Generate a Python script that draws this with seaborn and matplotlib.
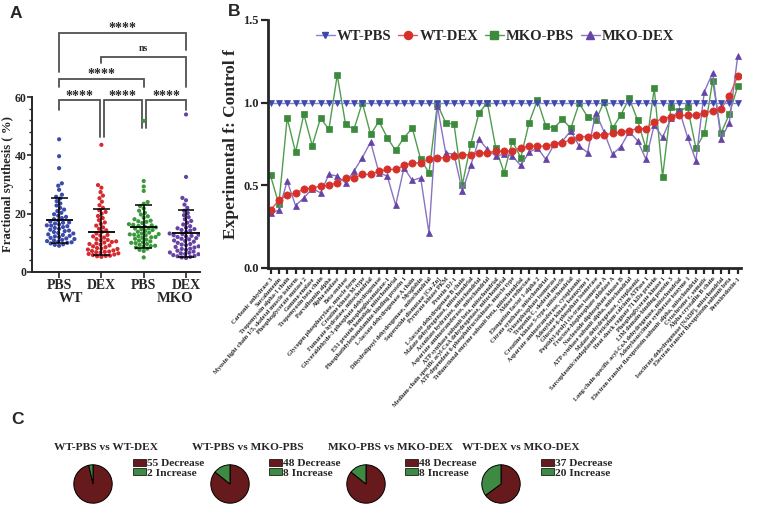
import numpy as np
import pandas as pd
import matplotlib
matplotlib.use("Agg")
import matplotlib.pyplot as plt
import seaborn as sns
from matplotlib.lines import Line2D
from matplotlib.patches import Patch
from matplotlib.ticker import MultipleLocator

# ---------------- data ----------------
groups_A = ["WT-PBS", "WT-DEX", "MKO-PBS", "MKO-DEX"]
tick_labels_A = ["PBS", "DEX", "PBS", "DEX"]
wt_pbs_fs = [45.5, 39.7, 35.6, 30.4, 29.6, 28.2, 26.5, 25.8, 25.2, 24.3, 23.5, 22.8, 22.0, 21.4,
             20.9, 20.3, 19.8, 19.3, 18.9, 18.5, 18.1, 17.7, 17.3, 16.9, 16.6, 16.3, 16.0, 15.7,
             15.4, 15.1, 14.8, 14.5, 14.2, 14.0, 13.7, 13.4, 13.2, 12.9, 12.7, 12.4, 12.2, 12.0,
             11.7, 11.5, 11.3, 11.0, 10.8, 10.6, 10.4, 10.2, 10.0, 9.8, 9.5, 9.3, 9.0, 15.9, 17.0]
wt_dex_fs = [43.6, 29.8, 28.9, 27.4, 26.2, 25.3, 24.1, 22.9, 22.0, 21.2, 20.6, 20.0, 19.2, 18.5,
             17.8, 17.0, 16.5, 15.9, 15.3, 14.8, 14.3, 13.8, 13.2, 12.7, 12.2, 11.8, 11.3, 10.9,
             10.5, 10.1, 9.8, 9.4, 9.1, 8.8, 8.5, 8.2, 7.9, 7.7, 7.4, 7.2, 7.0, 6.8, 6.6, 6.4,
             6.2, 6.0, 5.8, 5.6, 5.4, 5.2, 9.6, 11.0, 12.5, 8.0, 6.9, 5.5, 10.3]
mko_pbs_fs = [51.8, 31.2, 29.3, 27.8, 24.0, 23.4, 22.6, 21.8, 21.0, 20.3, 19.7, 19.1, 18.6, 18.1,
              17.6, 17.2, 16.8, 16.4, 16.0, 15.6, 15.3, 15.0, 14.7, 14.4, 14.1, 13.8, 13.5, 13.2,
              12.9, 12.6, 12.3, 12.0, 11.7, 11.4, 11.1, 10.8, 10.5, 10.2, 9.9, 9.6, 9.3, 9.0,
              8.7, 8.4, 8.0, 7.6, 7.2, 5.0, 13.0, 14.9, 16.2, 11.9, 10.0, 12.8, 15.8, 17.4, 8.9]
mko_dex_fs = [54.0, 32.6, 25.4, 24.6, 23.1, 22.0, 21.0, 20.2, 19.5, 18.8, 18.1, 17.5, 16.9, 16.3,
              15.7, 15.2, 14.7, 14.2, 13.7, 13.2, 12.8, 12.4, 12.0, 11.6, 11.2, 10.8, 10.4, 10.0,
              9.6, 9.2, 8.8, 8.4, 8.0, 7.6, 7.3, 7.0, 6.7, 6.4, 6.1, 5.8, 5.5, 5.2, 5.0, 4.8,
              13.0, 12.2, 9.4, 6.6, 5.4, 7.9, 11.4, 14.4, 10.6, 6.2, 8.6, 12.6, 15.0]

proteins = [
    "Carbonic anhydrase 3", "Sarcalumenin", "Tropomyosin alpha-1 chain",
    "Myosin light chain 1/3, skeletal muscle isoform", "Phosphoglycerate mutase 2",
    "Gamma-enolase", "Tropomyosin beta chain", "Parvalbumin alpha", "Alpha-enolase",
    "Beta-enolase", "Glycogen phosphorylase, muscle form", "Creatine kinase M-type",
    "Fumarate hydratase, mitochondrial", "Glyceraldehyde-3-phosphate dehydrogenase",
    "Phosphoglucomutase-1", "ES1 protein homolog, mitochondrial",
    "Phosphatidylethanolamine-binding protein 1", "L-lactate dehydrogenase A chain",
    "Myoglobin", "Dihydrolipoyl dehydrogenase, mitochondrial", "Superoxide dismutase [Cu-Zn]",
    "Pyruvate kinase PKM", "Protein DJ-1", "L-lactate dehydrogenase B chain",
    "Malate dehydrogenase, mitochondrial", "Aconitate hydratase, mitochondrial",
    "Aspartate aminotransferase, mitochondrial", "ATP synthase subunit beta, mitochondrial",
    "Medium-chain specific acyl-CoA dehydrogenase, mitochondrial",
    "ATP-dependent 6-phosphofructokinase, muscle type",
    "Trifunctional enzyme subunit beta, mitochondrial", "Aldose reductase",
    "Elongation factor 1-alpha 2", "Citrate synthase, mitochondrial",
    "Triosephosphate isomerase", "Troponin C, skeletal muscle",
    "Creatine kinase S-type, mitochondrial", "Aspartate aminotransferase, cytoplasmic",
    "Adenylate kinase isoenzyme 1", "Glucose-6-phosphate isomerase",
    "Peptidyl-prolyl cis-trans isomerase A", "Fructose-bisphosphate aldolase A",
    "Nucleoside diphosphate kinase B", "ATP synthase subunit alpha, mitochondrial",
    "Malate dehydrogenase, cytoplasmic",
    "Sarcoplasmic/endoplasmic reticulum calcium ATPase 1",
    "Heat shock cognate 71 kDa protein", "Phosphoglycerate kinase 1",
    "LIM domain-binding protein 3",
    "Long-chain specific acyl-CoA dehydrogenase, mitochondrial",
    "Adenylosuccinate synthetase isozyme 1",
    "Electron transfer flavoprotein subunit alpha, mitochondrial",
    "Cytochrome c, somatic", "Alpha-crystallin B chain",
    "Isocitrate dehydrogenase [NADP], mitochondrial",
    "Electron transfer flavoprotein subunit beta", "Peroxiredoxin-1",
]
ratio_wt_pbs = [1.0, 1.0, 1.0, 1.0, 1.0, 1.0, 1.0, 1.0, 1.0, 1.0, 1.0, 1.0, 1.0, 1.0, 1.0, 1.0,
                1.0, 1.0, 1.0, 1.0, 1.0, 1.0, 1.0, 1.0, 1.0, 1.0, 1.0, 1.0, 1.0, 1.0, 1.0, 1.0,
                1.0, 1.0, 1.0, 1.0, 1.0, 1.0, 1.0, 1.0, 1.0, 1.0, 1.0, 1.0, 1.0, 1.0, 1.0, 1.0,
                1.0, 1.0, 1.0, 1.0, 1.0, 1.0, 1.0, 1.0, 1.0]
ratio_wt_dex = [0.35, 0.41, 0.44, 0.455, 0.475, 0.485, 0.495, 0.50, 0.515, 0.545, 0.545, 0.566,
                0.566, 0.586, 0.596, 0.596, 0.62, 0.635, 0.636, 0.657, 0.667, 0.667, 0.677,
                0.685, 0.685, 0.697, 0.697, 0.707, 0.707, 0.707, 0.727, 0.737, 0.737, 0.737,
                0.747, 0.758, 0.775, 0.795, 0.795, 0.805, 0.805, 0.815, 0.823, 0.831, 0.843,
                0.843, 0.883, 0.903, 0.915, 0.924, 0.924, 0.924, 0.936, 0.952, 0.96, 1.04, 1.16]
ratio_mko_pbs = [0.56, 0.385, 0.907, 0.70, 0.93, 0.74, 0.907, 0.838, 1.166, 0.869, 0.838, 1.0,
                 0.808, 0.887, 0.788, 0.711, 0.788, 0.846, 0.657, 0.576, 0.99, 0.879, 0.869,
                 0.505, 0.747, 0.939, 1.0, 0.727, 0.576, 0.768, 0.667, 0.879, 1.016, 0.859,
                 0.848, 0.899, 0.845, 0.996, 0.915, 0.895, 1.006, 0.845, 0.926, 1.026, 0.895,
                 0.724, 1.087, 0.553, 0.972, 0.95, 0.972, 0.724, 0.815, 1.133, 0.815, 0.93, 1.10]
ratio_mko_dex = [0.33, 0.35, 0.525, 0.378, 0.424, 0.48, 0.455, 0.566, 0.556, 0.515, 0.586, 0.667,
                 0.762, 0.576, 0.556, 0.38, 0.605, 0.53, 0.545, 0.212, 0.98, 0.697, 0.687, 0.465,
                 0.62, 0.778, 0.717, 0.677, 0.687, 0.677, 0.62, 0.70, 0.727, 0.657, 0.747, 0.768,
                 0.83, 0.738, 0.698, 0.94, 0.82, 0.688, 0.734, 0.825, 0.77, 0.658, 0.865, 0.79,
                 0.905, 0.955, 0.79, 0.65, 1.066, 1.18, 0.778, 0.88, 1.28]

pie_titles = ["WT-PBS vs WT-DEX", "WT-PBS vs MKO-PBS", "MKO-PBS vs MKO-DEX", "WT-DEX vs MKO-DEX"]
pie_decrease = [55, 48, 48, 37]
pie_increase = [2, 8, 8, 20]

# ---------------- style ----------------
sns.set_theme(style="ticks")
plt.rcParams["font.family"] = ["Liberation Serif", "DejaVu Serif"]
plt.rcParams["font.weight"] = "bold"
plt.rcParams["axes.labelweight"] = "bold"

W, H = 767, 508
fig = plt.figure(figsize=(W / 100, H / 100), dpi=100)

def fx(px):
    return px / W

def fy(py):
    return 1 - py / H

# ---------------- Panel A ----------------
colors_A = ["#3b4aa8", "#d42a30", "#3a9a3a", "#6542a3"]
axA = fig.add_axes([fx(32), fy(272), fx(200) - fx(32), fy(97) - fy(272)])
dfA = pd.DataFrame({
    "group": np.repeat(groups_A, [len(wt_pbs_fs), len(wt_dex_fs), len(mko_pbs_fs), len(mko_dex_fs)]),
    "value": wt_pbs_fs + wt_dex_fs + mko_pbs_fs + mko_dex_fs,
})
sns.swarmplot(data=dfA, x="group", y="value", hue="group", order=groups_A, hue_order=groups_A,
              palette=colors_A, size=3.0, ax=axA, legend=False, linewidth=0)
for i, g in enumerate(groups_A):
    v = dfA.loc[dfA.group == g, "value"].to_numpy()
    m, s = v.mean(), v.std(ddof=1)
    axA.hlines(m, i - 0.32, i + 0.32, color="black", lw=1.3, zorder=5)
    axA.vlines(i, m - s, m + s, color="black", lw=1.1, zorder=5)
    axA.hlines([m - s, m + s], i - 0.2, i + 0.2, color="black", lw=1.1, zorder=5)
axA.set_xlim(-0.64, 3.33)
axA.set_ylim(0, 60)
axA.set_yticks([0, 20, 40, 60])
axA.yaxis.set_minor_locator(MultipleLocator(4))
axA.set_xticks(range(4))
axA.set_xticklabels(tick_labels_A, fontsize=10, fontweight="bold")
axA.tick_params(axis="y", labelsize=8.5, width=1.2, length=3.5, pad=0.5)
axA.tick_params(axis="y", which="minor", width=1.0, length=2.2)
axA.tick_params(axis="x", width=1.2, length=4, pad=1)
for t in axA.get_yticklabels():
    t.set_fontweight("bold")
axA.set_xlabel("")
axA.set_ylabel("Fractional synthesis ( %)", fontsize=9.2, fontweight="bold", va="center")
axA.yaxis.set_label_coords((8.5 - 32) / 168, 0.5)
for sp in ["top", "right"]:
    axA.spines[sp].set_visible(False)
for sp in ["left", "bottom"]:
    axA.spines[sp].set_linewidth(1.4)
axA.text(0.28, -6.8, "WT", ha="center", va="top", fontsize=10.5, fontweight="bold", clip_on=False)
axA.text(2.75, -6.8, "MKO", ha="center", va="top", fontsize=10.5, fontweight="bold", clip_on=False)

bc = "#505050"
def bracket(x1, x2, ytop, yl, yr, text, ty, fs=10):
    axA.plot([x1, x1, x2, x2], [yl, ytop, ytop, yr], color=bc, lw=1.3, clip_on=False,
             solid_joinstyle="miter")
    axA.text((x1 + x2) / 2, ty, text, ha="center", va="center", fontsize=fs,
             fontweight="bold", clip_on=False)

bracket(0, 0.97, 59.0, 55.5, 46.3, "****", 60.2)
bracket(1.05, 1.95, 59.0, 46.3, 49.4, "****", 60.2)
bracket(2.06, 3.0, 59.0, 49.4, 55.5, "****", 60.2)
bracket(0, 2.0, 66.2, 63.3, 63.3, "****", 67.6)
bracket(0.99, 3.0, 73.8, 71.5, 63.3, "ns", 76.6, fs=7)
bracket(0, 3.0, 81.8, 68.7, 76.1, "****", 83.4)

# ---------------- Panel B ----------------
axB = fig.add_axes([fx(268), fy(268), fx(741) - fx(268), fy(20) - fy(268)])
idx = list(range(len(proteins)))
series = [
    ("MKO-PBS", ratio_mko_pbs, "#4f9d4f", "#3c8a3c", "s", 4.6),
    ("MKO-DEX", ratio_mko_dex, "#8a72c4", "#6544a6", "^", 4.8),
    ("WT-DEX", ratio_wt_dex, "#e05555", "#d6302a", "o", 5.2),
    ("WT-PBS", ratio_wt_pbs, "#8088d6", "#3f47aa", "v", 4.4),
]
handles = {}
for name, vals, lc, mc, mk, ms in series:
    d = pd.DataFrame({"x": idx, "y": vals})
    sns.lineplot(data=d, x="x", y="y", ax=axB, color=lc, lw=1.0, marker=mk, markersize=ms,
                 markerfacecolor=mc, markeredgecolor=mc, markeredgewidth=0.5, legend=False)
    handles[name] = Line2D([], [], color=lc, lw=1.0, marker=mk, markersize=ms + 0.6,
                           markerfacecolor=mc, markeredgecolor=mc)
axB.set_xlim(-0.3, 56.4)
axB.set_ylim(0, 1.5)
axB.set_yticks([0, 0.5, 1.0, 1.5])
axB.set_yticklabels(["0.0", "0.5", "1.0", "1.5"], fontsize=9, fontweight="bold")
axB.set_xticks(idx)
axB.set_xticklabels(proteins, rotation=49, ha="right", rotation_mode="anchor",
                    fontsize=4.5, fontweight="bold")
axB.tick_params(axis="x", length=4.5, width=1.6, pad=1.5)
axB.tick_params(axis="y", length=5, width=1.6, pad=1.5)
axB.set_xlabel("")
axB.set_ylabel("Experimental f: Control f", fontsize=12.5, fontweight="bold", labelpad=3)
for sp in ["top", "right"]:
    axB.spines[sp].set_visible(False)
for sp in ["left", "bottom"]:
    axB.spines[sp].set_linewidth(2.0)
order = ["WT-PBS", "WT-DEX", "MKO-PBS", "MKO-DEX"]
axB.legend([handles[n] for n in order], order, ncol=4, loc="upper center",
           bbox_to_anchor=(0.48, 1.0), frameon=False, handlelength=1.3,
           handletextpad=0.15, columnspacing=0.45, borderaxespad=0.25,
           prop={"weight": "bold", "size": 10.5})

# ---------------- Panel C ----------------
dark = "#661a1c"
green = "#3f8a42"
pie_cx = [93, 230, 366, 501]
leg_x = [133, 269, 405, 541]
title_cx = [106, 248, 390, 521]
R = 24
for i in range(4):
    ax = fig.add_axes([fx(pie_cx[i] - R), fy(484 + R), fx(2 * R), (2 * R) / H])
    ax.pie([pie_decrease[i], pie_increase[i]], colors=[dark, green], startangle=90,
           counterclock=False, wedgeprops=dict(edgecolor="black", linewidth=0.7))
    ax.set_aspect("equal")
    fig.text(fx(title_cx[i]), fy(447), pie_titles[i], ha="center", va="center",
             fontsize=8.2, fontweight="bold")
    fig.legend(handles=[Patch(facecolor=dark, edgecolor="black", linewidth=0.5,
                              label=f"{pie_decrease[i]} Decrease"),
                        Patch(facecolor=green, edgecolor="black", linewidth=0.5,
                              label=f"{pie_increase[i]} Increase")],
               loc="upper left", bbox_to_anchor=(fx(leg_x[i]), fy(459)), frameon=False,
               handlelength=1.1, handleheight=0.55, handletextpad=0.12, labelspacing=0.0,
               borderpad=0, borderaxespad=0, prop={"weight": "bold", "size": 8.2})

# ---------------- panel letters ----------------
for txt, x, y in [("A", 10, 6), ("B", 228, 4), ("C", 11, 412)]:
    fig.text(fx(x), fy(y), txt, ha="left", va="top", fontsize=12.5, fontweight="bold",
             family=["Liberation Sans", "DejaVu Sans"])

fig.savefig("out.png", dpi=100)
